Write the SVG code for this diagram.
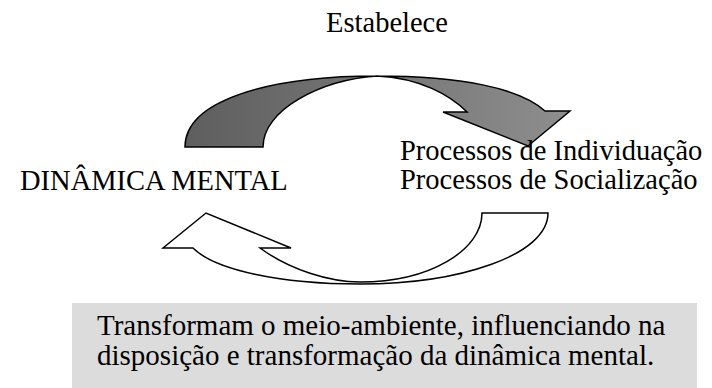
<svg xmlns="http://www.w3.org/2000/svg" width="712" height="388" viewBox="0 0 712 388">
<style>
.t{font-family:"Liberation Serif","Times New Roman",serif;font-size:28.5px;fill:#000}
.b{font-size:29px}
.arr{stroke:#000;stroke-width:1.5;stroke-linejoin:miter}
</style>
<defs>
<linearGradient id="g" x1="185" y1="0" x2="570" y2="0" gradientUnits="userSpaceOnUse">
<stop offset="0" stop-color="#5e5e5e"/>
<stop offset="1" stop-color="#8e8e8e"/>
</linearGradient>
</defs>
<rect width="712" height="388" fill="#fff"/>
<g id="connectors">
<path class="arr" fill="url(#g)" d="M185,147 C185,100 270,76 377,76 C460,76 520,88 545,111 L570,111 L528,146 L443,112 L467,112 C450,95 420,78 377,76 C320,80 263,110 263,147 Z"/>
<path class="arr" fill="#fff" d="M163,248 L206,213 L291,248 L260,248 C290,270 330,282 360,282 C430,282 482,250 482,213 L548,213 C548,255 460,284 360,284 C280,284 215,270 193,248 Z"/>
</g>
<g id="estabelece"><text class="t" x="387" y="32" text-anchor="middle">Estabelece</text></g>
<g id="dinamica"><text class="t" x="20" y="190">DINÂMICA MENTAL</text></g>
<g id="processos">
<text class="t" x="400" y="160">Processos de Individuação</text>
<text class="t" x="400" y="189">Processos de Socialização</text>
</g>
<g id="nota">
<rect x="72" y="303" width="625" height="85" fill="#dcdcdc"/>
<text class="t b" x="97" y="335">Transformam o meio-ambiente, influenciando na</text>
<text class="t b" x="97" y="365">disposição e transformação da dinâmica mental.</text>
</g>
</svg>
